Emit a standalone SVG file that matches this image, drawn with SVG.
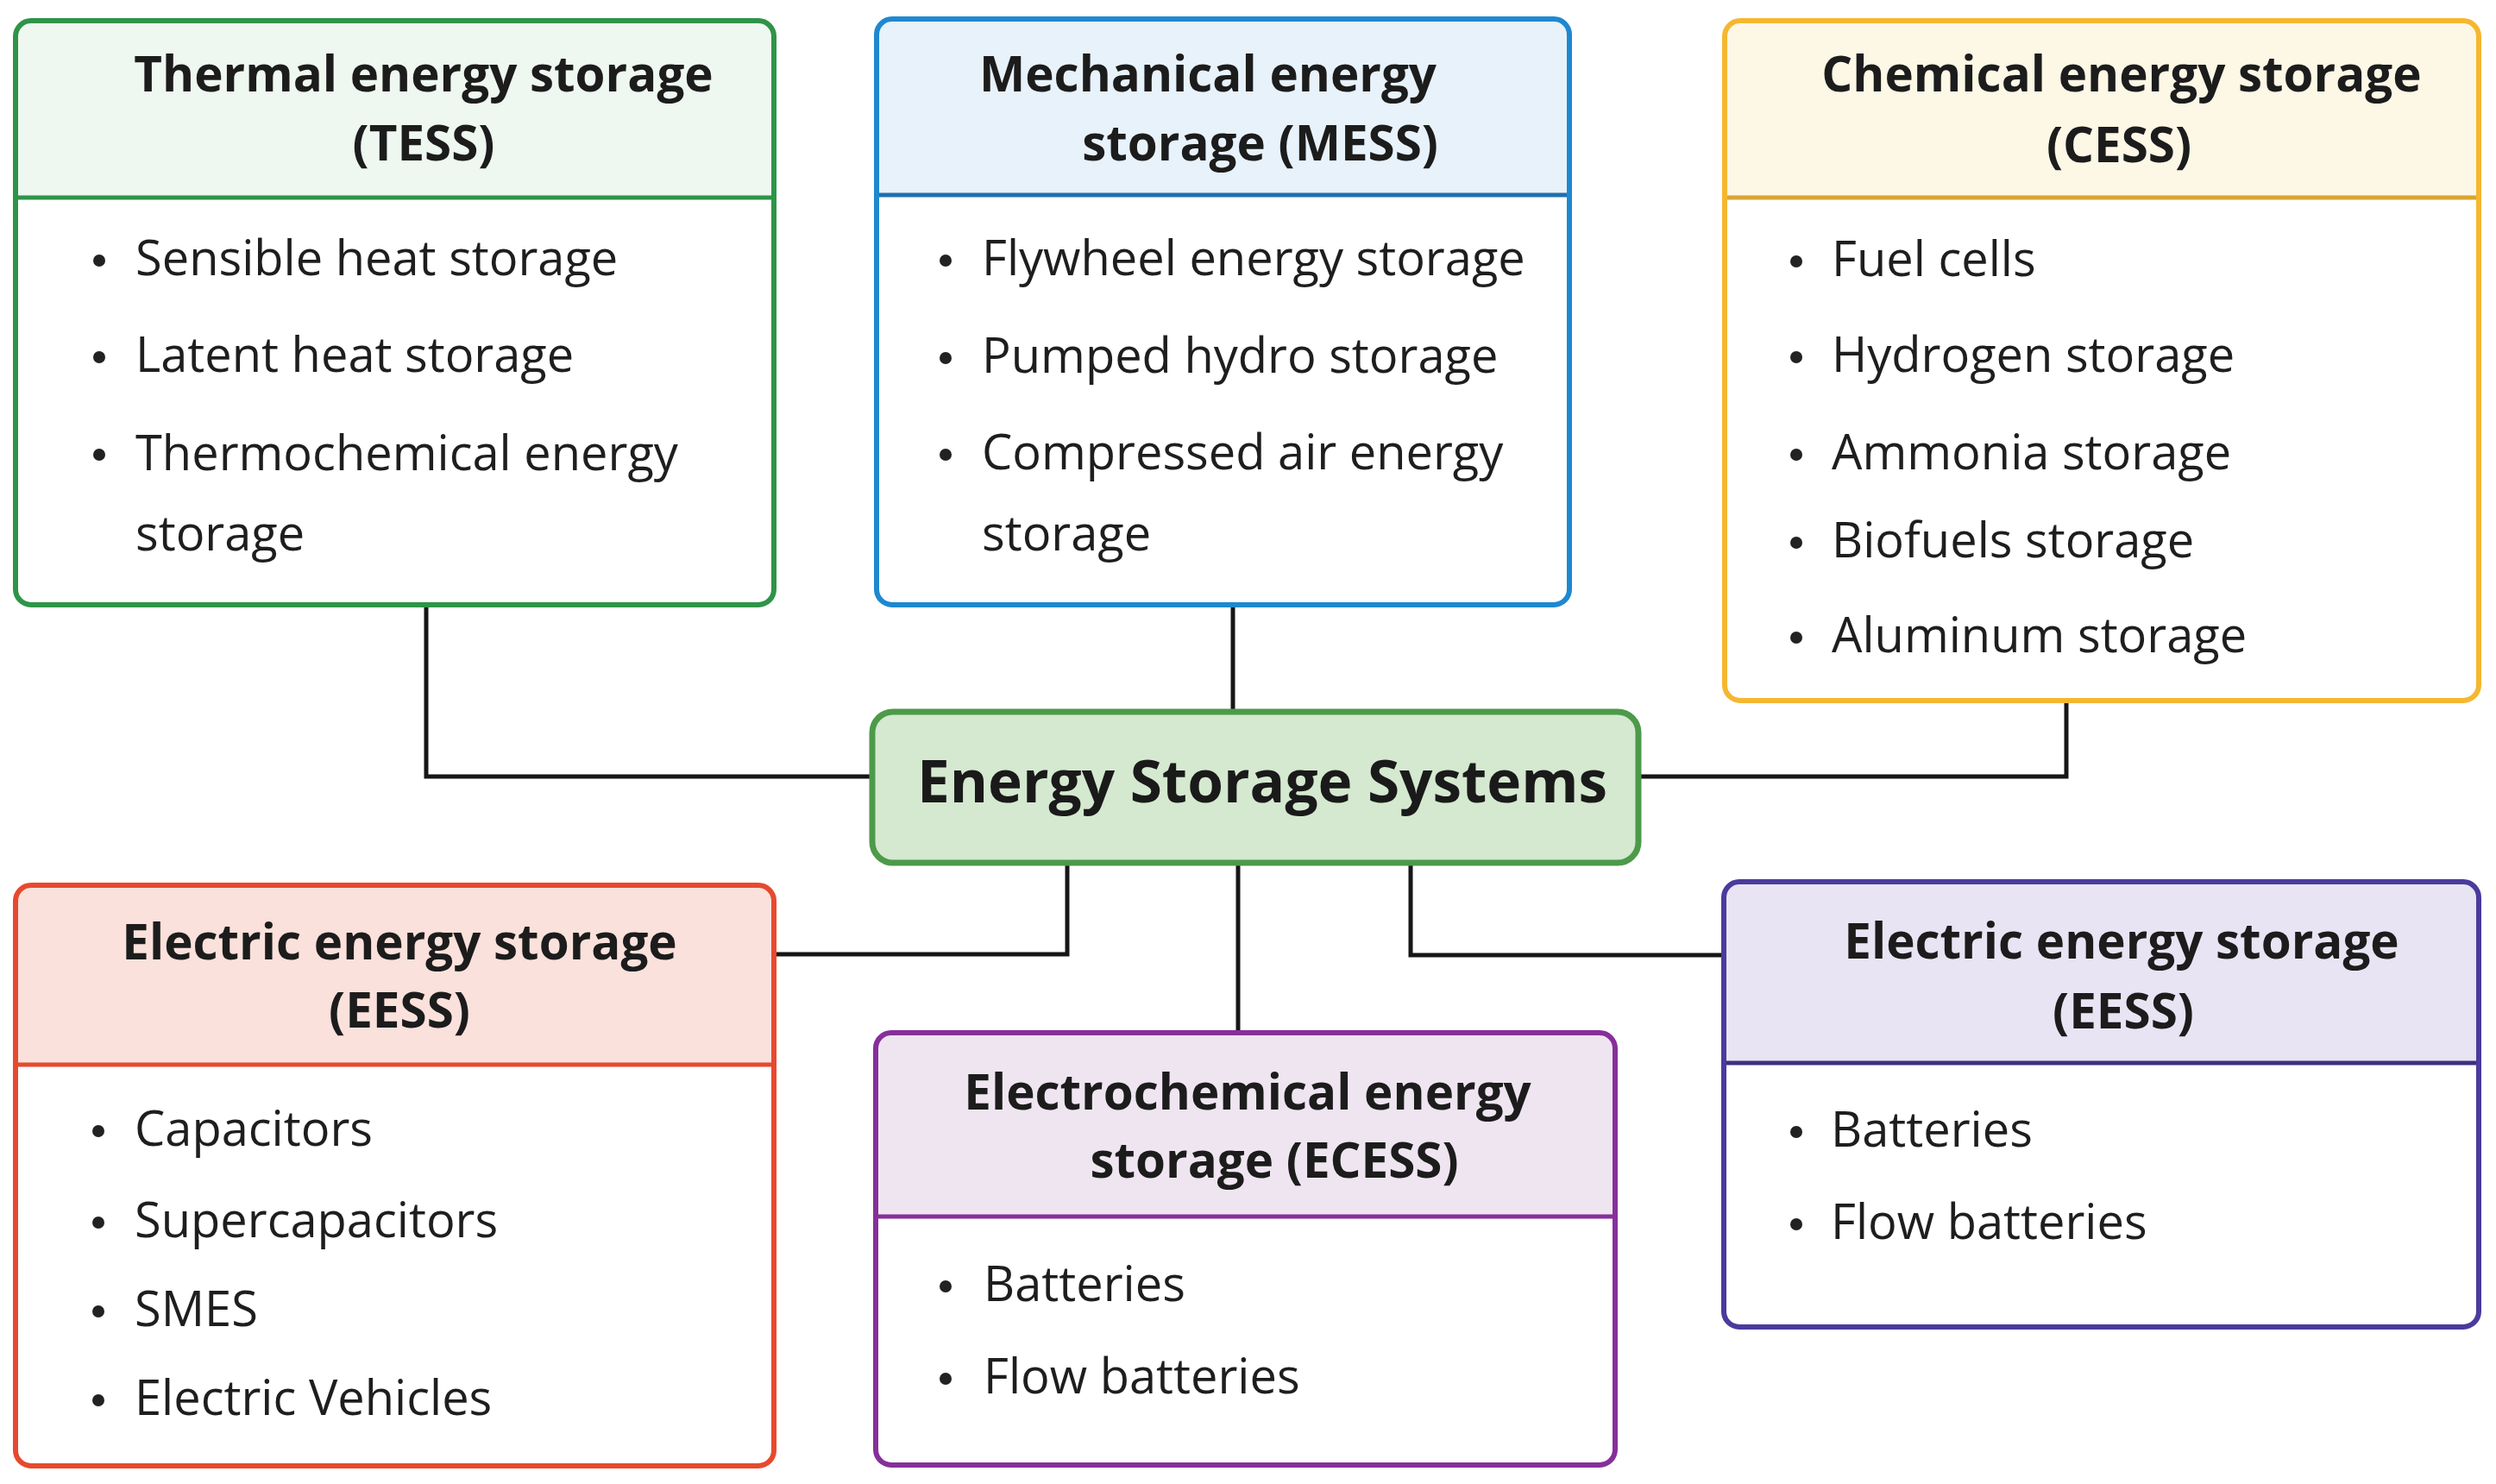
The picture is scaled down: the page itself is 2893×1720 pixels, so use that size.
<svg xmlns="http://www.w3.org/2000/svg" width="2893" height="1720" viewBox="0 0 2893 1720">
<style>
.title{font-family:"Open Sans","Noto Sans","Liberation Sans",sans-serif;font-weight:bold;font-size:56.5px;fill:#1c1c1c}
.item{font-family:"Open Sans","Noto Sans","Liberation Sans",sans-serif;font-size:56px;fill:#1e1e1e}
.main{font-family:"Open Sans","Noto Sans","Liberation Sans",sans-serif;font-weight:bold;font-size:67.5px;fill:#1a1a1a}
.body{fill:#ffffff}
.frame{fill:none;stroke-width:6}
.div{stroke-width:5}
.dot{fill:#222}
.conn{fill:none;stroke:#161616;stroke-width:5}
</style>
<rect width="2893" height="1720" fill="#ffffff"/>
<g id="connectors">
<path class="conn" d="M494,701 V900 H1011"/>
<path class="conn" d="M1429,701 V825"/>
<path class="conn" d="M2395,812 V900 H1899"/>
<path class="conn" d="M1237,1000 V1106 H897"/>
<path class="conn" d="M1435,1000 V1197"/>
<path class="conn" d="M1635,1000 V1107 H1998"/>
</g>
<g id="tess">
<rect class="body" x="18" y="24" width="879" height="677" rx="18"/>
<path d="M18,229 V42 A18,18 0 0 1 36,24 H879 A18,18 0 0 1 897,42 V229 Z" fill="#eef7f0"/>
<line class="div" x1="18" y1="229" x2="897" y2="229" stroke="#2e9448"/>
<rect class="frame" x="18" y="24" width="879" height="677" rx="18" stroke="#2e9448"/>
<text class="title" x="491" y="106" text-anchor="middle">Thermal energy storage</text>
<text class="title" x="491" y="186" text-anchor="middle">(TESS)</text>
<circle class="dot" cx="115" cy="302" r="7"/>
<text class="item" x="157" y="319">Sensible heat storage</text>
<circle class="dot" cx="115" cy="414" r="7"/>
<text class="item" x="157" y="431">Latent heat storage</text>
<circle class="dot" cx="115" cy="527" r="7"/>
<text class="item" x="157" y="545">Thermochemical energy</text>
<text class="item" x="157" y="638">storage</text>
</g>
<g id="mess">
<rect class="body" x="1016" y="22" width="803" height="679" rx="18"/>
<path d="M1016,226 V40 A18,18 0 0 1 1034,22 H1801 A18,18 0 0 1 1819,40 V226 Z" fill="#e8f2fb"/>
<line class="div" x1="1016" y1="226" x2="1819" y2="226" stroke="#1e6fb0"/>
<rect class="frame" x="1016" y="22" width="803" height="679" rx="18" stroke="#1e88d0"/>
<text class="title" x="1665" y="106" text-anchor="end">Mechanical energy</text>
<text class="title" x="1667" y="186" text-anchor="end">storage (MESS)</text>
<circle class="dot" cx="1096" cy="302" r="7"/>
<text class="item" x="1138" y="319">Flywheel energy storage</text>
<circle class="dot" cx="1096" cy="415" r="7"/>
<text class="item" x="1138" y="432">Pumped hydro storage</text>
<circle class="dot" cx="1096" cy="527" r="7"/>
<text class="item" x="1138" y="544">Compressed air energy</text>
<text class="item" x="1138" y="638">storage</text>
</g>
<g id="cess">
<rect class="body" x="1999" y="24" width="874" height="788" rx="18"/>
<path d="M1999,229 V42 A18,18 0 0 1 2017,24 H2855 A18,18 0 0 1 2873,42 V229 Z" fill="#fdf7e6"/>
<line class="div" x1="1999" y1="229" x2="2873" y2="229" stroke="#d9a532"/>
<rect class="frame" x="1999" y="24" width="874" height="788" rx="18" stroke="#f5b731"/>
<text class="title" x="2459" y="106" text-anchor="middle">Chemical energy storage</text>
<text class="title" x="2456" y="188" text-anchor="middle">(CESS)</text>
<circle class="dot" cx="2082" cy="303" r="7"/>
<text class="item" x="2123" y="320">Fuel cells</text>
<circle class="dot" cx="2082" cy="414" r="7"/>
<text class="item" x="2123" y="431">Hydrogen storage</text>
<circle class="dot" cx="2082" cy="527" r="7"/>
<text class="item" x="2123" y="544">Ammonia storage</text>
<circle class="dot" cx="2082" cy="629" r="7"/>
<text class="item" x="2123" y="646">Biofuels storage</text>
<circle class="dot" cx="2082" cy="739" r="7"/>
<text class="item" x="2123" y="756">Aluminum storage</text>
</g>
<g id="center">
<rect x="1011" y="825" width="888" height="175" rx="24" fill="#d4e9cf" stroke="#4c9a4a" stroke-width="7"/>
<text class="main" x="1463" y="930" text-anchor="middle">Energy Storage Systems</text>
</g>
<g id="eess-left">
<rect class="body" x="18" y="1026" width="879" height="673" rx="18"/>
<path d="M18,1234 V1044 A18,18 0 0 1 36,1026 H879 A18,18 0 0 1 897,1044 V1234 Z" fill="#fbe1db"/>
<line class="div" x1="18" y1="1234" x2="897" y2="1234" stroke="#e64a2e"/>
<rect class="frame" x="18" y="1026" width="879" height="673" rx="18" stroke="#e64a2e"/>
<text class="title" x="463" y="1112" text-anchor="middle">Electric energy storage</text>
<text class="title" x="463" y="1191" text-anchor="middle">(EESS)</text>
<circle class="dot" cx="114" cy="1311" r="7"/>
<text class="item" x="156" y="1328">Capacitors</text>
<circle class="dot" cx="114" cy="1417" r="7"/>
<text class="item" x="156" y="1434">Supercapacitors</text>
<circle class="dot" cx="114" cy="1520" r="7"/>
<text class="item" x="156" y="1537">SMES</text>
<circle class="dot" cx="114" cy="1623" r="7"/>
<text class="item" x="156" y="1640">Electric Vehicles</text>
</g>
<g id="ecess">
<rect class="body" x="1015" y="1197" width="857" height="501" rx="18"/>
<path d="M1015,1410 V1215 A18,18 0 0 1 1033,1197 H1854 A18,18 0 0 1 1872,1215 V1410 Z" fill="#efe5f1"/>
<line class="div" x1="1015" y1="1410" x2="1872" y2="1410" stroke="#862f9a"/>
<rect class="frame" x="1015" y="1197" width="857" height="501" rx="18" stroke="#862f9a"/>
<text class="title" x="1446" y="1286" text-anchor="middle">Electrochemical energy</text>
<text class="title" x="1477" y="1365" text-anchor="middle">storage (ECESS)</text>
<circle class="dot" cx="1096" cy="1491" r="7"/>
<text class="item" x="1140" y="1508">Batteries</text>
<circle class="dot" cx="1096" cy="1598" r="7"/>
<text class="item" x="1140" y="1615">Flow batteries</text>
</g>
<g id="eess-right">
<rect class="body" x="1998" y="1022" width="875" height="516" rx="18"/>
<path d="M1998,1232 V1040 A18,18 0 0 1 2016,1022 H2855 A18,18 0 0 1 2873,1040 V1232 Z" fill="#e9e4f3"/>
<line class="div" x1="1998" y1="1232" x2="2873" y2="1232" stroke="#3e2f7e"/>
<rect class="frame" x="1998" y="1022" width="875" height="516" rx="18" stroke="#4a3b9c"/>
<text class="title" x="2459" y="1111" text-anchor="middle">Electric energy storage</text>
<text class="title" x="2461" y="1192" text-anchor="middle">(EESS)</text>
<circle class="dot" cx="2082" cy="1312" r="7"/>
<text class="item" x="2122" y="1329">Batteries</text>
<circle class="dot" cx="2082" cy="1419" r="7"/>
<text class="item" x="2122" y="1436">Flow batteries</text>
</g>
</svg>
